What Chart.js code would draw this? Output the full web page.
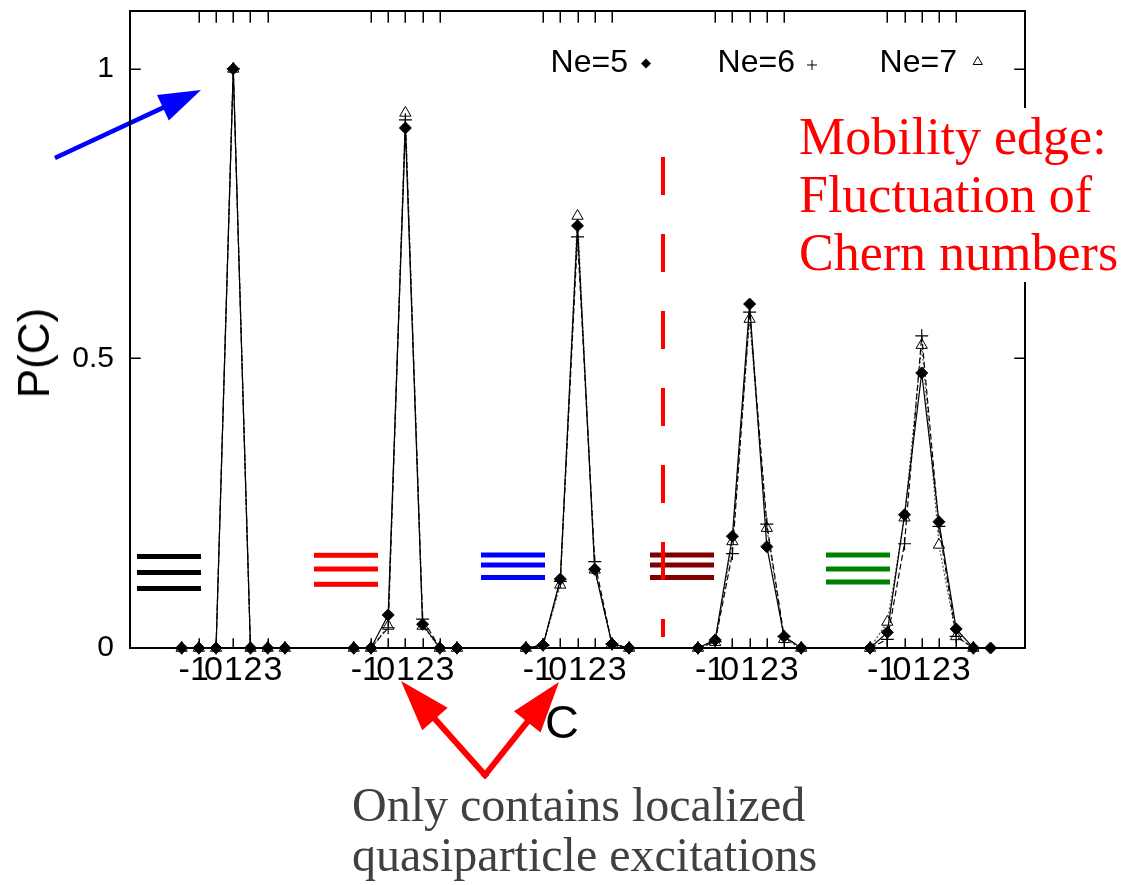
<!DOCTYPE html>
<html>
<head>
<meta charset="utf-8">
<title>P(C)</title>
<script src="https://cdn.jsdelivr.net/npm/chart.js@4.4.0/dist/chart.umd.min.js"></script>
<style>
    html, body { margin: 0; padding: 0; background: #fff; }
    #wrap { position: relative; width: 1133px; height: 885px; overflow: hidden; }
    #wrap canvas { position: absolute; left: 0; top: 0; }
    .txt { position: absolute; white-space: nowrap; line-height: 1; }
    .sans { font-family: 'Liberation Sans', Arial, sans-serif; color: #000; }
    .serif { font-family: 'Liberation Serif', 'Times New Roman', serif; }
    #ytitle { left: 34px; top: 353px; font-size: 44px; transform: translate(-50%, -50%) rotate(-90deg); }
    #xtitle { left: 562px; top: 698px; font-size: 47px; transform: translateX(-50%); }
    .key { top: 45px; font-size: 32px; text-align: right; }
    #mobility { left: 799px; top: 108px; font-size: 52px; line-height: 58px; color: #ff0000; background: #fff; padding-right: 30px; }
    #localized { left: 352px; top: 780px; font-size: 48px; line-height: 50px; color: #404040; }
</style>
</head>
<body>
<div id="wrap">
    <canvas id="chart"></canvas>
    <div class="txt sans" id="ytitle">P(C)</div>
    <div class="txt sans" id="xtitle">C</div>
    <div class="txt sans key" style="right: 505px;">Ne=5</div>
    <div class="txt sans key" style="right: 338px;">Ne=6</div>
    <div class="txt sans key" style="right: 176px;">Ne=7</div>
    <div class="txt serif" id="mobility">Mobility edge:<br>Fluctuation of<br>Chern numbers</div>
    <div class="txt serif" id="localized">Only contains localized<br>quasiparticle excitations</div>
</div>
<script>
// Chern numbers sampled in every group (rows below start at C = -2)
const chernValues = [-2, -1, 0, 1, 2, 3, 4, 5];
// x position of C = 0 for each of the five groups on the shared axis
const groupOffsets = [5, 15, 25, 35, 45];
const xTickChern = [-1, 0, 1, 2, 3];
const yTickValues = [0, 0.5, 1];
const yTickLabels = ['0', '0.5', '1'];
const seriesNames = ['Ne=5', 'Ne=6', 'Ne=7'];

// P(C), one row per group
const pNe5 = [
    [0, 0, 0, 1, 0, 0, 0],
    [0, 0, 0.057, 0.898, 0.041, 0, 0],
    [0, 0.005, 0.119, 0.729, 0.136, 0.007, 0],
    [0, 0.014, 0.193, 0.594, 0.175, 0.02, 0],
    [0, 0.027, 0.23, 0.475, 0.218, 0.033, 0, 0]
];
const pNe6 = [
    [0, 0, 0, 1, 0, 0, 0],
    [0, 0, 0.035, 0.912, 0.05, 0, 0],
    [0, 0.005, 0.115, 0.71, 0.149, 0.007, 0],
    [0, 0.011, 0.163, 0.58, 0.214, 0.02, 0],
    [0, 0.015, 0.18, 0.539, 0.21, 0.02, 0]
];
const pNe7 = [
    [0, 0, 0, 1, 0, 0, 0],
    [0, 0, 0.038, 0.924, 0.038, 0, 0],
    [0, 0.005, 0.109, 0.746, 0.135, 0.007, 0],
    [0, 0.01, 0.184, 0.568, 0.207, 0.015, 0],
    [0, 0.045, 0.225, 0.523, 0.178, 0.02, 0]
];

// flatten the groups onto one axis, with a null between groups so lines break
function seriesPoints(rows) {
    const pts = [];
    rows.forEach((row, g) => {
        row.forEach((p, i) => pts.push({ x: groupOffsets[g] + chernValues[i], y: p }));
        pts.push({ x: groupOffsets[g] + chernValues[row.length - 1] + 0.5, y: null });
    });
    return pts;
}

// tick marks sit on integer C; the digits are spread a little wider so they don't collide
const xTicks = [];
const xLabelPos = [];
const xTickText = {};
groupOffsets.forEach(off => {
    xTickChern.forEach(c => {
        xTicks.push(off + c);
        const pos = off + c + (c - 1) * 0.15;
        xLabelPos.push(pos);
        xTickText[pos] = String(c);
    });
});

// annotation layout (canvas pixels)
const levelBars = [
    { color: '#000000', x0: 137, x1: 201, ys: [556.5, 572.5, 588.5] },
    { color: '#ff0000', x0: 314, x1: 378, ys: [555.3, 569, 584.3] },
    { color: '#0000ff', x0: 481, x1: 545, ys: [555, 565, 577.5] },
    { color: '#800000', x0: 650, x1: 714, ys: [555, 565, 577.5] },
    { color: '#008000', x0: 826, x1: 890, ys: [555, 569, 582] }
];
const keyMarkers = [
    { style: 'diamond', x: 646, y: 63.5, r: 5 },
    { style: 'cross', x: 812, y: 65, r: 4.5 },
    { style: 'triangle', x: 978, y: 62, r: 5 }
];

function drawArrow(ctx, x0, y0, x1, y1, color, width, headLen, headHalf) {
    const ang = Math.atan2(y1 - y0, x1 - x0);
    const bx = x1 - headLen * Math.cos(ang);
    const by = y1 - headLen * Math.sin(ang);
    ctx.strokeStyle = color;
    ctx.lineWidth = width;
    ctx.lineCap = 'square';
    ctx.beginPath();
    ctx.moveTo(x0, y0);
    ctx.lineTo(bx + Math.cos(ang), by + Math.sin(ang));
    ctx.stroke();
    ctx.fillStyle = color;
    ctx.beginPath();
    ctx.moveTo(x1, y1);
    ctx.lineTo(bx + headHalf * Math.sin(ang), by - headHalf * Math.cos(ang));
    ctx.lineTo(bx - headHalf * Math.sin(ang), by + headHalf * Math.cos(ang));
    ctx.closePath();
    ctx.fill();
}

function drawMarker(ctx, m) {
    ctx.strokeStyle = '#000';
    ctx.fillStyle = '#000';
    ctx.lineWidth = 1;
    ctx.beginPath();
    if (m.style === 'diamond') {
        ctx.moveTo(m.x, m.y - m.r); ctx.lineTo(m.x + m.r, m.y);
        ctx.lineTo(m.x, m.y + m.r); ctx.lineTo(m.x - m.r, m.y);
        ctx.closePath(); ctx.fill();
    } else if (m.style === 'cross') {
        ctx.moveTo(m.x - m.r, m.y); ctx.lineTo(m.x + m.r, m.y);
        ctx.moveTo(m.x, m.y - m.r); ctx.lineTo(m.x, m.y + m.r);
        ctx.stroke();
    } else {
        const h = m.r * 0.87;
        ctx.moveTo(m.x, m.y - m.r); ctx.lineTo(m.x + h, m.y + m.r / 2);
        ctx.lineTo(m.x - h, m.y + m.r / 2); ctx.closePath();
        ctx.stroke();
    }
}

// gnuplot-like box with inward ticks, plus the overlaid sketch marks
const framePlugin = {
    id: 'frame',
    beforeDatasetsDraw(chart) {
        const { ctx, chartArea: a, scales: { x, y } } = chart;
        ctx.save();
        drawArrow(ctx, 57, 157, 201, 90, '#0000ff', 4.5, 42, 14);
        ctx.strokeStyle = '#000';
        ctx.lineWidth = 2;
        ctx.strokeRect(a.left, a.top, a.right - a.left, a.bottom - a.top);
        ctx.lineWidth = 1.5;
        ctx.beginPath();
        xTicks.forEach(v => {
            const px = Math.round(x.getPixelForValue(v)) + 0.25;
            ctx.moveTo(px, a.bottom); ctx.lineTo(px, a.bottom - 9);
            ctx.moveTo(px, a.top); ctx.lineTo(px, a.top + 11);
        });
        yTickValues.forEach(v => {
            const py = Math.round(y.getPixelForValue(v)) + 0.25;
            ctx.moveTo(a.left, py); ctx.lineTo(a.left + 10, py);
            ctx.moveTo(a.right, py); ctx.lineTo(a.right - 10, py);
        });
        ctx.stroke();
        ctx.restore();
    },
    afterDatasetsDraw(chart) {
        const { ctx } = chart;
        ctx.save();
        levelBars.forEach(b => {
            ctx.fillStyle = b.color;
            b.ys.forEach(yy => ctx.fillRect(b.x0, yy - 2.5, b.x1 - b.x0, 5));
        });
        ctx.strokeStyle = '#ff0000';
        ctx.lineWidth = 4;
        ctx.setLineDash([38, 39]);
        ctx.beginPath();
        ctx.moveTo(663, 157);
        ctx.lineTo(663, 637);
        ctx.stroke();
        ctx.setLineDash([]);
        drawArrow(ctx, 485, 775, 401, 681, '#ff0000', 6, 51, 17);
        drawArrow(ctx, 485, 775, 559, 682, '#ff0000', 6, 51, 17);
        keyMarkers.forEach(m => drawMarker(ctx, m));
        ctx.restore();
    }
};

// fixed axis sizes; drop the label overhang padding the scales ask for
function noOverhang(scale) {
    scale.paddingLeft = 0;
    scale.paddingRight = 0;
    scale.paddingTop = 0;
    scale.paddingBottom = 0;
}

const ctx = document.getElementById('chart').getContext('2d');
Chart.defaults.font.family = "'Liberation Sans', Arial, sans-serif";
Chart.defaults.color = '#000';

new Chart(ctx, {
    type: 'line',
    data: {
        datasets: [
            {
                label: seriesNames[0],
                data: seriesPoints(pNe5),
                borderColor: '#000',
                borderWidth: 1.2,
                pointStyle: 'rectRot',
                pointRadius: 6,
                pointBackgroundColor: '#000',
                pointBorderColor: '#000',
                pointBorderWidth: 1
            },
            {
                label: seriesNames[1],
                data: seriesPoints(pNe6),
                borderColor: '#000',
                borderWidth: 1.2,
                borderDash: [6, 3],
                pointStyle: 'cross',
                pointRadius: 6.5,
                pointBorderColor: '#000',
                pointBorderWidth: 1.2
            },
            {
                label: seriesNames[2],
                data: seriesPoints(pNe7),
                borderColor: '#555',
                borderWidth: 1.2,
                borderDash: [2, 2],
                pointStyle: 'triangle',
                pointRadius: 6.5,
                pointBackgroundColor: '#fff',
                pointBorderColor: '#000',
                pointBorderWidth: 1
            }
        ]
    },
    options: {
        responsive: true,
        maintainAspectRatio: false,
        animation: false,
        events: [],
        layout: { autoPadding: false, padding: { left: 0, top: 11, right: 108, bottom: 0 } },
        elements: { line: { tension: 0, fill: false }, point: { hitRadius: 0 } },
        datasets: { line: { clip: false, spanGaps: false } },
        plugins: { legend: { display: false }, tooltip: { enabled: false } },
        scales: {
            x: {
                type: 'linear',
                min: 0,
                max: 52,
                grid: { display: false, drawTicks: false },
                border: { display: false },
                afterBuildTicks: scale => { scale.ticks = xLabelPos.map(v => ({ value: v })); },
                afterFit: scale => { scale.height = 237; noOverhang(scale); },
                ticks: {
                    autoSkip: false,
                    maxRotation: 0,
                    minRotation: 0,
                    padding: 2,
                    font: { size: 34, lineHeight: 1.2 },
                    callback: v => xTickText[v]
                }
            },
            y: {
                min: 0,
                max: 1.1,
                grid: { display: false, drawTicks: false },
                border: { display: false },
                afterBuildTicks: scale => { scale.ticks = yTickValues.map(v => ({ value: v })); },
                afterFit: scale => { scale.width = 130; noOverhang(scale); },
                ticks: {
                    padding: 16,
                    font: { size: 30 },
                    callback: v => yTickLabels[yTickValues.indexOf(v)]
                }
            }
        }
    },
    plugins: [framePlugin]
});
</script>
</body>
</html>
